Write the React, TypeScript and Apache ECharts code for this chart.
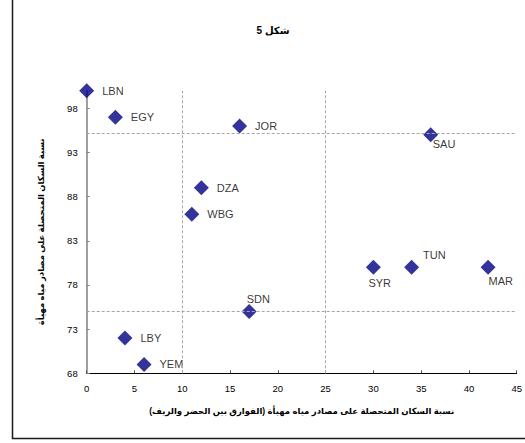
import React, { useEffect, useRef } from "react";
import * as echarts from "echarts";

// Country codes and their coordinates
const countries = ["LBN", "EGY", "JOR", "SAU", "DZA", "WBG", "TUN", "SYR", "MAR", "SDN", "LBY", "YEM"];
const gapValues = [0, 3, 16, 36, 12, 11, 34, 30, 42, 17, 4, 6];
const accessValues = [100, 97, 96, 95, 89, 86, 80, 80, 80, 75, 72, 69];

// Label placement per country: "right" or [dx, dy] from symbol's top-left
const labelSpots: (string | number[])[] = [
  "right", "right", "right", [9.5, 17], "right", "right",
  [19, -5], [2.5, 23], [8, 21], [5, -5], "right", "right",
];

// Reference lines
const verticalRefs = [10, 25];
const horizontalRefs = [95.2, 75];

// Axis ticks
const yTicks = [68, 73, 78, 83, 88, 93, 98];
const xTicks = [0, 5, 10, 15, 20, 25, 30, 35, 40, 45];

const titleText = "شكل 5";
const xName = "نسبة السكان المتحصلة على مصادر مياه مهيأة (الفوارق بين الحضر والريف)";
const yName = "نسبة السكان المتحصلة على مصادر مياه مهيأة";

const FONT = "'Liberation Sans', Arial, 'DejaVu Sans', sans-serif";

export default function App() {
  const ref = useRef<HTMLDivElement>(null);

  useEffect(() => {
    if (!ref.current) return;
    const chart = echarts.init(ref.current, null, { renderer: "svg" });

    const points = countries.map((c, i) => {
      const spot = labelSpots[i];
      const label: any =
        spot === "right"
          ? { position: "right", distance: 8 }
          : { position: spot, align: "left", verticalAlign: "middle" };
      return { name: c, value: [gapValues[i], accessValues[i]], label };
    });

    const refStyle = { color: "#a6a6a6", type: [3, 2], width: 1 };

    chart.setOption({
      animation: false,
      textStyle: { fontFamily: FONT },
      title: {
        text: titleText,
        left: 268,
        top: 20,
        textAlign: "center",
        textStyle: { fontSize: 10, fontWeight: "bold", color: "#000", fontFamily: FONT },
      },
      graphic: [
        {
          type: "rect",
          shape: { x: 12.5, y: -5, width: 540, height: 443.5 },
          style: { fill: "none", stroke: "#1a1a1a", lineWidth: 1.5 },
          silent: true,
        },
      ],
      grid: { left: 86.7, right: 6.7, top: 90.7, bottom: 69.7 },
      xAxis: {
        type: "value",
        min: 0,
        max: 45,
        interval: 5,
        name: xName,
        nameLocation: "middle",
        nameGap: 33,
        nameTextStyle: { fontSize: 8.5, fontWeight: "bold", color: "#000", fontFamily: FONT },
        axisLine: { show: true, onZero: false, lineStyle: { color: "#000", width: 1 } },
        axisTick: { show: true, inside: true, length: 3, lineStyle: { color: "#555" }, customValues: xTicks },
        axisLabel: { fontSize: 9.5, color: "#000", margin: 10, customValues: xTicks },
        splitLine: { show: false },
      },
      yAxis: {
        type: "value",
        min: 68,
        max: 100,
        name: yName,
        nameLocation: "middle",
        nameGap: 41,
        nameRotate: 90,
        nameTextStyle: { fontSize: 8.5, fontWeight: "bold", color: "#000", fontFamily: FONT },
        axisLine: { show: true, onZero: false, lineStyle: { color: "#808080", width: 1.5 } },
        axisTick: { show: true, inside: true, length: 3, lineStyle: { color: "#808080" }, customValues: yTicks },
        axisLabel: { fontSize: 9.5, color: "#000", margin: 9, customValues: yTicks },
        splitLine: { show: false },
      },
      series: [
        {
          type: "scatter",
          symbol: "diamond",
          symbolSize: 15,
          itemStyle: { color: "#000080" },
          label: {
            show: true,
            formatter: "{b}",
            fontSize: 11,
            color: "#000",
            fontFamily: FONT,
          },
          data: points,
          markLine: {
            silent: true,
            symbol: "none",
            label: { show: false },
            lineStyle: refStyle,
            data: [
              ...verticalRefs.map((v) => ({ xAxis: v })),
              ...horizontalRefs.map((v) => ({ yAxis: v })),
            ],
          },
          z: 3,
        },
      ],
    });

    return () => chart.dispose();
  }, []);

  return (
    <div
      ref={ref}
      style={{ position: "fixed", left: 0, top: 0, width: 525, height: 443, background: "#fff" }}
    />
  );
}
